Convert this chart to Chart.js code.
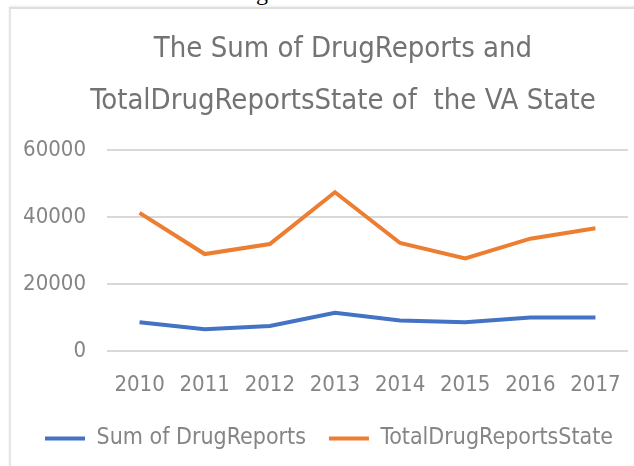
<!DOCTYPE html>
<html>
<head>
<meta charset="utf-8">
<script src="https://cdn.jsdelivr.net/npm/chart.js@4/dist/chart.umd.min.js"></script>
<style>
  html, body { margin: 0; padding: 0; background: #fff; }
  #page { position: relative; width: 634px; height: 466px; overflow: hidden; }
  #caption {
    position: absolute; left: 0; top: 0; width: 634px; height: 6px; overflow: hidden;
  }
  #caption span {
    position: absolute; left: 236px; top: -20px;
    font: 24px/24px "Liberation Serif", serif; color: #000; white-space: nowrap;
  }
  #box {
    position: absolute; left: 9px; top: 7px; width: 660px; height: 480px;
    border-left: 2px solid #e4e4e4; border-top: 2px solid #dedede;
    box-shadow: 0 -1px 2px rgba(0,0,0,0.08);
  }
  #chart { position: absolute; left: 0; top: 0; }
</style>
</head>
<body>
<div id="page">
  <div id="caption"><span>Figure 5. VA State.</span></div>
  <div id="box"></div>
  <canvas id="chart" width="634" height="466"></canvas>
</div>
<script>
const years = ["2010", "2011", "2012", "2013", "2014", "2015", "2016", "2017"];
const sumDrugReports = [8600, 6500, 7500, 11400, 9100, 8600, 10000, 10000];
const totalDrugReportsState = [41300, 29000, 32000, 47500, 32300, 27700, 33600, 36700];
const titleLines = ["The Sum of DrugReports and", "TotalDrugReportsState of  the VA State"];

const fontFamily = '"DejaVu Sans Condensed", sans-serif';
const textGray = "#858585";

// plot area ends at x=628, the extra room on the right only moves the title centre
const plotRight = 628;
const rightOverhang = -30;

const ctx = document.getElementById("chart").getContext("2d");
const chart = new Chart(ctx, {
  type: "line",
  data: {
    labels: years,
    datasets: [
      {
        label: "Sum of DrugReports",
        data: sumDrugReports,
        borderColor: "#4472C4",
        backgroundColor: "#4472C4",
        borderWidth: 4,
        pointRadius: 0,
        tension: 0,
      },
      {
        label: "TotalDrugReportsState",
        data: totalDrugReportsState,
        borderColor: "#ED7D31",
        backgroundColor: "#ED7D31",
        borderWidth: 4,
        pointRadius: 0,
        tension: 0,
      },
    ],
  },
  options: {
    responsive: false,
    animation: false,
    layout: { padding: { left: 22, right: rightOverhang, top: 0, bottom: 6 } },
    plugins: {
      title: {
        display: true,
        text: titleLines,
        color: "#737373",
        font: { family: fontFamily, size: 29, weight: "normal", lineHeight: 1.8 },
        padding: { top: 23, bottom: 23 },
      },
      legend: {
        position: "bottom",
        align: "start",
        labels: {
          usePointStyle: true,
          pointStyle: "line",
          pointStyleWidth: 40,
          color: textGray,
          font: { family: fontFamily, size: 23 },
          padding: 23,
        },
      },
      tooltip: { enabled: false },
    },
    scales: {
      x: {
        offset: true,
        grid: { display: false, drawTicks: false },
        border: { display: false },
        ticks: {
          color: textGray,
          font: { family: fontFamily, size: 22 },
          padding: 21,
          maxRotation: 0,
        },
        afterFit: (scale) => {
          scale.paddingLeft = 0;
          scale.paddingRight = 0;
          scale.height = 53;
        },
      },
      y: {
        min: 0,
        max: 60000,
        grid: { color: "#d9d9d9", lineWidth: 2, drawTicks: false },
        border: { display: false },
        ticks: {
          stepSize: 20000,
          color: textGray,
          font: { family: fontFamily, size: 22 },
          padding: 21,
          callback: (value) => String(value),
        },
        afterFit: (scale) => {
          scale.width = 85;
        },
      },
      yRight: {
        position: "right",
        min: 0,
        max: 1,
        grid: { display: false, drawTicks: false },
        border: { display: false },
        ticks: { display: false },
        afterFit: (scale) => {
          scale.width = 634 - rightOverhang - plotRight;
        },
      },
    },
  },
});
</script>
</body>
</html>
